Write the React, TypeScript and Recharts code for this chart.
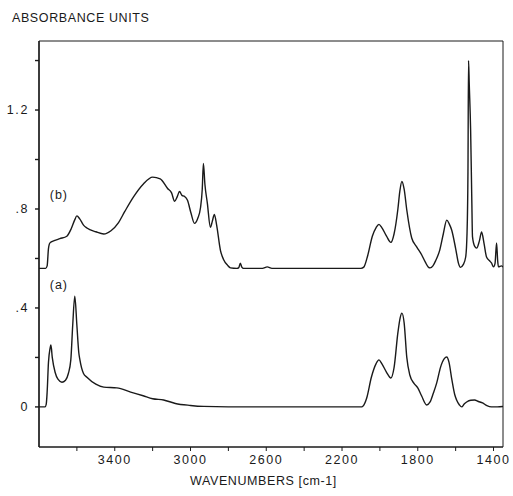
import React from "react";
import {
  Line,
  LineChart,
  ReferenceArea,
  ReferenceDot,
  XAxis,
  YAxis,
} from "recharts";

// spectrum (b), upper trace
const wavenumbersB = [
  3800, 3765, 3757, 3750, 3742, 3720, 3690, 3653, 3630, 3612, 3600, 3585, 3565,
  3547, 3500, 3458, 3420, 3380, 3347, 3300, 3250, 3200, 3160, 3121, 3100, 3084,
  3070, 3058, 3045, 3032, 3016, 2998, 2979, 2962, 2947, 2938, 2932, 2924, 2911,
  2895, 2885, 2874, 2862, 2842, 2825, 2805, 2789, 2755, 2745, 2737, 2729, 2720,
  2620, 2595, 2570, 2100, 2085, 2065, 2040, 2020, 2005, 1990, 1965, 1942, 1925,
  1905, 1895, 1884, 1872, 1858, 1832, 1805, 1779, 1760, 1745, 1735, 1720, 1705,
  1684, 1665, 1647, 1634, 1621, 1600, 1585, 1575, 1560, 1547, 1540, 1535, 1532,
  1528, 1521, 1515, 1511, 1500, 1489, 1475, 1463, 1450, 1437, 1420, 1411, 1400,
  1392, 1384, 1378, 1374, 1358, 1350,
];
const absorbanceB = [
  0.56, 0.56, 0.57, 0.64, 0.663, 0.672, 0.68, 0.69, 0.72, 0.755, 0.772, 0.76,
  0.735, 0.723, 0.708, 0.699, 0.712, 0.745, 0.79, 0.85, 0.9, 0.929, 0.922,
  0.883, 0.865, 0.831, 0.85, 0.871, 0.855, 0.851, 0.835, 0.785, 0.742, 0.762,
  0.806, 0.88, 0.984, 0.9, 0.823, 0.726, 0.75, 0.778, 0.735, 0.633, 0.595,
  0.573, 0.562, 0.56, 0.563, 0.581, 0.565, 0.56, 0.56, 0.566, 0.56, 0.56,
  0.565, 0.61, 0.69, 0.725, 0.738, 0.725, 0.69, 0.665, 0.7, 0.8, 0.87, 0.911,
  0.88, 0.796, 0.683, 0.646, 0.614, 0.585, 0.566, 0.562, 0.57, 0.592, 0.634,
  0.7, 0.755, 0.74, 0.715, 0.64, 0.58, 0.564, 0.575, 0.606, 0.7, 0.95, 1.4,
  1.3, 1.12, 0.85, 0.687, 0.65, 0.642, 0.67, 0.707, 0.66, 0.606, 0.59, 0.582,
  0.566, 0.58, 0.663, 0.59, 0.566, 0.57, 0.565,
];

// spectrum (a), lower trace
const wavenumbersA = [
  3800, 3768, 3762, 3757, 3750, 3742, 3737, 3730, 3715, 3700, 3679, 3660, 3645,
  3632, 3622, 3611, 3600, 3590, 3584, 3565, 3547, 3500, 3458, 3389, 3316, 3250,
  3200, 3142, 3080, 3000, 2932, 2800, 2100, 2090, 2070, 2045, 2020, 2005, 1990,
  1965, 1942, 1925, 1905, 1893, 1884, 1872, 1858, 1842, 1820, 1800, 1780, 1753,
  1735, 1718, 1700, 1680, 1660, 1647, 1635, 1620, 1605, 1595, 1580, 1568, 1555,
  1542, 1520, 1500, 1480, 1458, 1435, 1411, 1380, 1350,
];
const absorbanceA = [
  0, 0, 0.01, 0.06, 0.18, 0.235, 0.25, 0.2, 0.14, 0.112, 0.1, 0.108, 0.135,
  0.19, 0.33, 0.448, 0.33, 0.22, 0.19, 0.135, 0.12, 0.092, 0.08, 0.077, 0.06,
  0.045, 0.033, 0.028, 0.014, 0.006, 0.002, 0, 0, 0.003, 0.035, 0.12, 0.175,
  0.19, 0.175, 0.14, 0.117, 0.16, 0.3, 0.36, 0.379, 0.34, 0.2, 0.129, 0.095,
  0.077, 0.045, 0.008, 0.02, 0.055, 0.097, 0.16, 0.195, 0.202, 0.18, 0.11, 0.05,
  0.028, 0.008, 0, 0.012, 0.02, 0.027, 0.028, 0.022, 0.016, 0.005, 0, 0, 0.002,
];

const xTicks = [3600, 3400, 3200, 3000, 2800, 2600, 2400, 2200, 2000, 1800, 1600, 1400];
const xTickLabels = [3400, 3000, 2600, 2200, 1800, 1400];
const yTicks = [0, 0.2, 0.4, 0.6, 0.8, 1.0, 1.2, 1.4];
const yTickLabels: Record<string, string> = { "0": "0", "0.4": ".4", "0.8": ".8", "1.2": "1.2" };

const X_DOMAIN: [number, number] = [1350, 3800];
const Y_DOMAIN: [number, number] = [-0.162, 1.479];

const spectrumB = wavenumbersB.map((wn, i) => ({ wn, abs: absorbanceB[i] }));
const spectrumA = wavenumbersA.map((wn, i) => ({ wn, abs: absorbanceA[i] }));

const FONT = "'Liberation Sans', Arial, sans-serif";
const INK = "#1a1a1a";

const tickStyle = { fill: INK, fontSize: 12.5, fontFamily: FONT, letterSpacing: 1.6 };

export default function App() {
  return (
    <div
      style={{
        position: "absolute",
        left: 0,
        top: 0,
        width: 513,
        height: 496,
        background: "#fff",
        fontFamily: FONT,
        color: INK,
      }}
    >
      <div style={{ position: "absolute", left: 12, top: 11, fontSize: 12.5, letterSpacing: 0.6 }}>
        ABSORBANCE UNITS
      </div>
      <div
        style={{
          position: "absolute",
          left: 190,
          top: 474,
          fontSize: 12.5,
          letterSpacing: 0.6,
          whiteSpace: "nowrap",
        }}
      >
        WAVENUMBERS [cm-1]
      </div>
      <LineChart
        width={513}
        height={496}
        margin={{ top: 41, right: 10, bottom: 19, left: 0 }}
      >
        <XAxis
          dataKey="wn"
          type="number"
          domain={X_DOMAIN}
          reversed
          allowDataOverflow
          ticks={xTicks}
          tickFormatter={(v: number) => (xTickLabels.includes(v) ? String(v) : "")}
          tickSize={4}
          tickMargin={4}
          height={30}
          stroke={INK}
          tick={tickStyle}
        />
        <YAxis
          type="number"
          domain={Y_DOMAIN}
          allowDataOverflow
          ticks={yTicks}
          tickFormatter={(v: number) => yTickLabels[String(Math.round(v * 10) / 10)] ?? ""}
          tickSize={4}
          tickMargin={6}
          width={39}
          stroke={INK}
          strokeWidth={1.4}
          tick={tickStyle}
        />
        <ReferenceArea
          x1={X_DOMAIN[1]}
          x2={X_DOMAIN[0]}
          y1={Y_DOMAIN[0]}
          y2={Y_DOMAIN[1]}
          fill="none"
          stroke={INK}
          strokeWidth={1}
        />
        <ReferenceDot
          x={3695}
          y={0.86}
          r={0}
          fill="none"
          stroke="none"
          label={{ value: "(b)", position: "center", fill: INK, fontSize: 12.5, fontFamily: FONT, letterSpacing: 1 }}
        />
        <ReferenceDot
          x={3695}
          y={0.493}
          r={0}
          fill="none"
          stroke="none"
          label={{ value: "(a)", position: "center", fill: INK, fontSize: 12.5, fontFamily: FONT, letterSpacing: 1 }}
        />
        <Line
          data={spectrumB}
          dataKey="abs"
          type="monotone"
          stroke={INK}
          strokeWidth={1.4}
          dot={false}
          isAnimationActive={false}
        />
        <Line
          data={spectrumA}
          dataKey="abs"
          type="monotone"
          stroke={INK}
          strokeWidth={1.4}
          dot={false}
          isAnimationActive={false}
        />
      </LineChart>
    </div>
  );
}
